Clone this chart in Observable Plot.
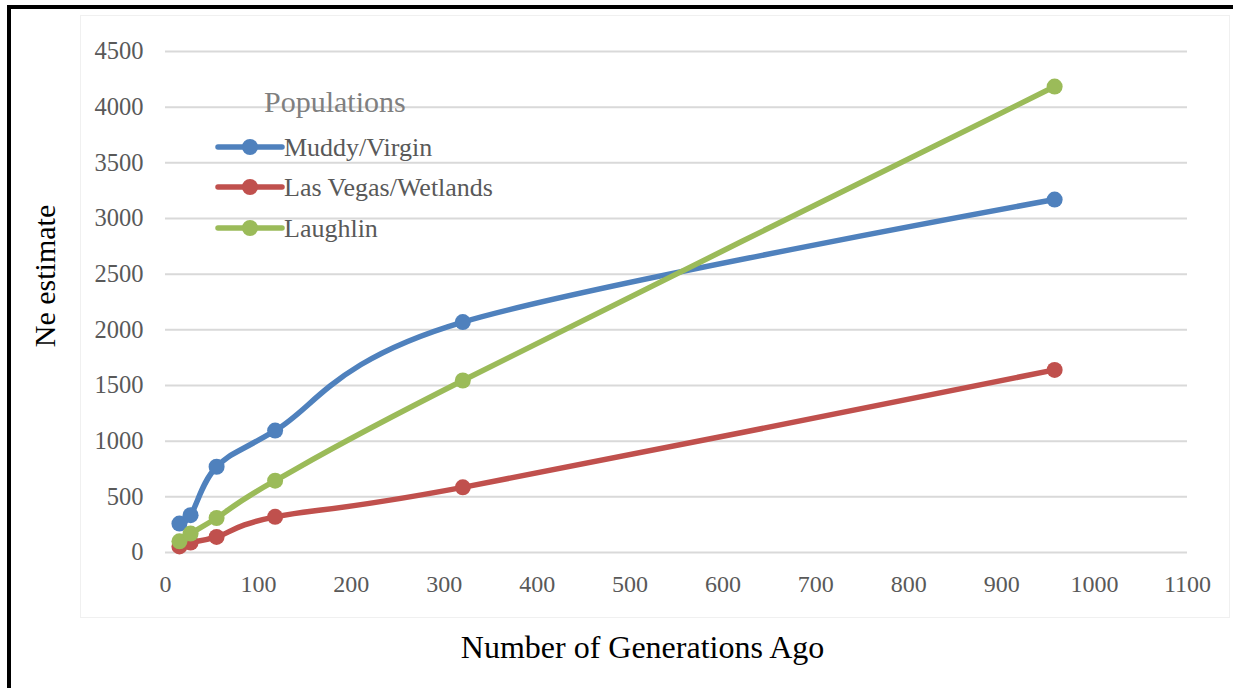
<!DOCTYPE html>
<html>
<head>
<meta charset="utf-8">
<script src="https://cdn.jsdelivr.net/npm/d3@7"></script>
<script src="https://cdn.jsdelivr.net/npm/@observablehq/plot@0.6"></script>
<style>
  html, body { margin: 0; padding: 0; background: #fff; font-family: "Liberation Serif", serif; }
  #wrap { position: relative; width: 1233px; height: 688px; overflow: hidden; }
  #frame { position: absolute; left: 7px; top: 5px; width: 1300px; height: 800px;
           border-left: 4px solid #000; border-top: 4px solid #000; box-sizing: border-box; }
  #area { position: absolute; left: 80px; top: 15px; width: 1150px; height: 603px;
          border: 1px solid #f0f0f0; box-sizing: border-box; }
  #chart { position: absolute; left: 0; top: 0; }
  #legend { position: absolute; left: 0; top: 0; }
</style>
</head>
<body>
<div id="wrap">
  <div id="frame"></div>
  <div id="area"></div>
  <div id="chart"></div>
  <svg id="legend" width="520" height="260"></svg>
</div>
<script>
// ---- data ----
const generations = [15, 27, 55, 118, 320, 957];
const seriesNames = ["Muddy/Virgin", "Las Vegas/Wetlands", "Laughlin"];
const muddyVirgin = [260, 335, 770, 1095, 2070, 3170];
const lasVegasWetlands = [55, 90, 140, 320, 585, 1640];
const laughlin = [100, 170, 310, 645, 1545, 4185];
const seriesColors = ["#4F81BD", "#C0504D", "#9BBB59"];
const xTicks = [0, 100, 200, 300, 400, 500, 600, 700, 800, 900, 1000, 1100];
const yTicks = [0, 500, 1000, 1500, 2000, 2500, 3000, 3500, 4000, 4500];
const legendTitle = "Populations";
const xTitle = "Number of Generations Ago";
const yTitle = "Ne estimate";

const seriesValues = [muddyVirgin, lasVegasWetlands, laughlin];
const rows = [];
seriesNames.forEach((name, i) => {
  generations.forEach((g, j) => rows.push({series: name, gen: g, ne: seriesValues[i][j]}));
});

const FONT = "Liberation Serif";
const chart = Plot.plot({
  width: 1233,
  height: 688,
  marginLeft: 165,
  marginRight: 46,
  marginTop: 51,
  marginBottom: 136,
  style: {fontFamily: FONT, fontSize: "24px", color: "#595959", background: "transparent", overflow: "visible"},
  x: {domain: [0, 1100]},
  y: {domain: [0, 4500]},
  color: {domain: seriesNames, range: seriesColors},
  marks: [
    Plot.gridY(yTicks, {stroke: "#d9d9d9", strokeOpacity: 1, strokeWidth: 2}),
    Plot.axisY(yTicks, {tickSize: 0, tickPadding: 22, label: null, fontSize: 24.5, fill: "#595959", tickFormat: d => String(d)}),
    Plot.axisX(xTicks, {tickSize: 0, tickPadding: 22, label: null, fontSize: 24, fill: "#595959", tickFormat: d => String(d)}),
    Plot.line(rows, {x: "gen", y: "ne", z: "series", stroke: "series", strokeWidth: 5.5, curve: "cardinal", tension: 0}),
    Plot.dot(rows, {x: "gen", y: "ne", fill: "series", r: 8}),
    Plot.text([xTitle], {text: d => d, frameAnchor: "bottom", textAnchor: "middle", lineAnchor: "middle", dx: -34, dy: 95, fontSize: 32, fill: "#000"}),
    Plot.text([yTitle], {text: d => d, frameAnchor: "left", textAnchor: "middle", lineAnchor: "middle", rotate: -90, dx: -120, dy: -26, fontSize: 30, fill: "#000"})
  ]
});
document.getElementById("chart").appendChild(chart);

// ---- legend (inside plot area, top-left) ----
const lg = d3.select("#legend");
lg.append("text")
  .attr("x", 264).attr("y", 101)
  .attr("dy", "0.35em")
  .attr("font-size", 30)
  .attr("fill", "#7f7f7f")
  .text(legendTitle);
const rowY = [147, 187, 228];
seriesNames.forEach((name, i) => {
  const g = lg.append("g");
  g.append("line").attr("x1", 218).attr("x2", 282).attr("y1", rowY[i]).attr("y2", rowY[i])
    .attr("stroke", seriesColors[i]).attr("stroke-width", 5.5).attr("stroke-linecap", "round");
  g.append("circle").attr("cx", 250).attr("cy", rowY[i]).attr("r", 8).attr("fill", seriesColors[i]);
  g.append("text").attr("x", 284).attr("y", rowY[i]).attr("dy", "0.35em")
    .attr("font-size", 26)
    .attr("fill", "#595959")
    .text(name);
});

document.querySelectorAll("svg, svg g, svg text").forEach(el => {
  el.setAttribute("font-family", FONT);
  el.style.fontFamily = FONT;
});
</script>
</body>
</html>
